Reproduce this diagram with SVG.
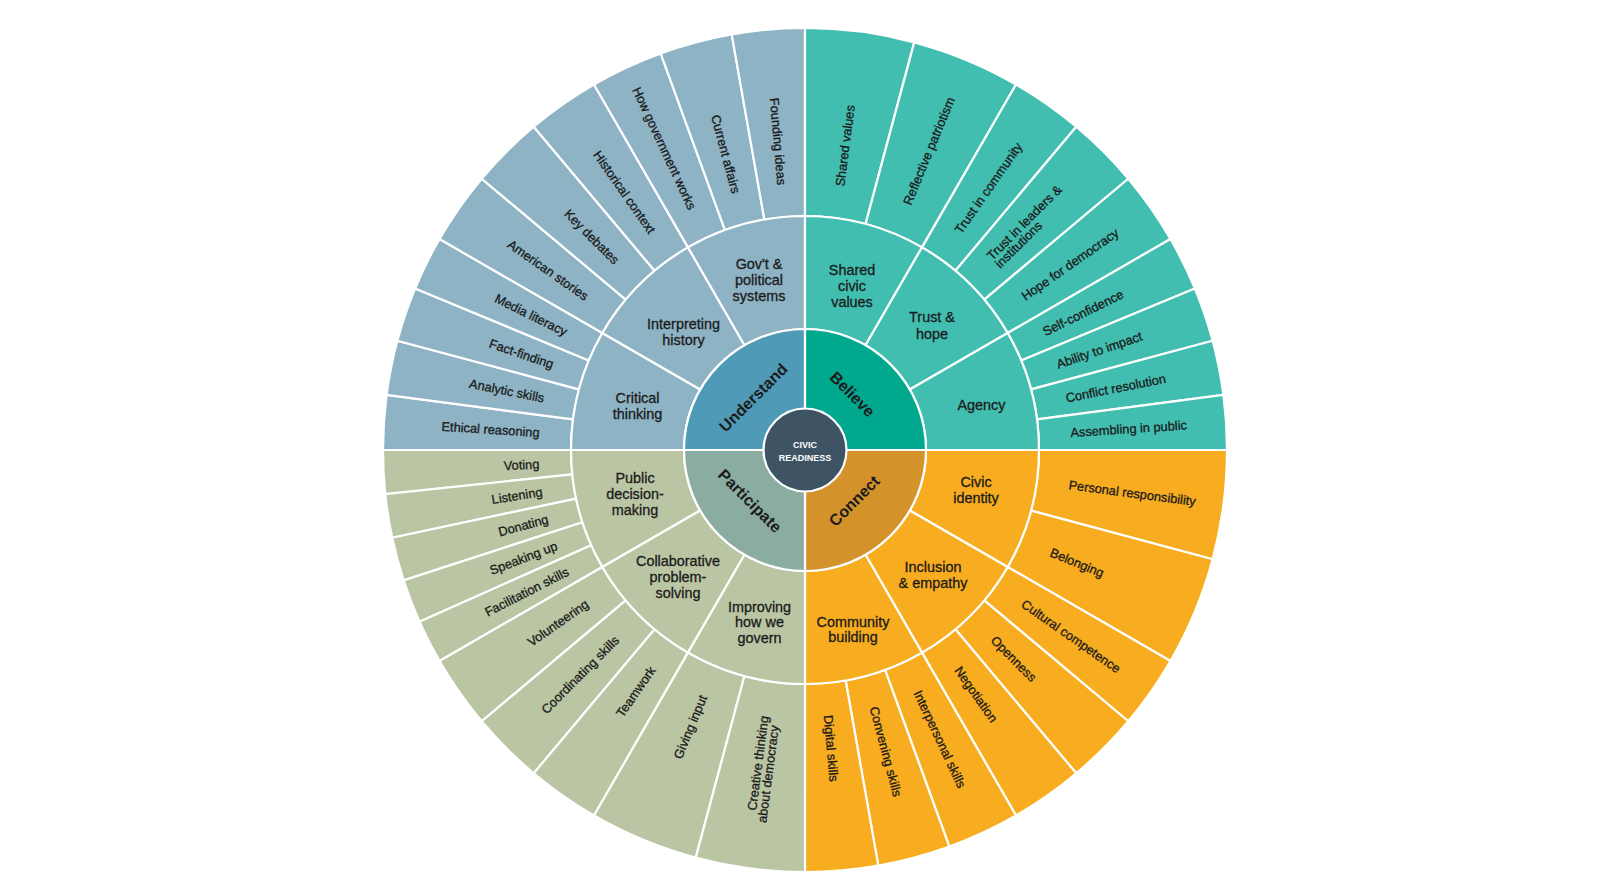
<svg xmlns="http://www.w3.org/2000/svg" width="1616" height="886" viewBox="0 0 1616 886">
<style>
.seg{stroke:#fff;stroke-width:2.2;stroke-linejoin:round}
.u{fill:#8DB3C4}.ud{fill:#4F9AB7}
.b{fill:#42BEB0}.bd{fill:#00A88E}
.c{fill:#F8AC1F}.cd{fill:#D4922B}
.p{fill:#BAC5A3}.pd{fill:#8BACA0}
text{font-family:"Liberation Sans",Arial,sans-serif;fill:#1b1b1b;stroke:#1b1b1b;stroke-width:0.3px}
.o{font-size:12.8px}
.oR{text-anchor:start}
.oL{text-anchor:end}
.m{font-size:14.4px;text-anchor:middle}
.i{font-size:16px;font-weight:bold;text-anchor:middle;stroke-width:0}
.ctr{font-size:9px;font-weight:bold;fill:#fff;stroke:none;text-anchor:middle}
</style>
<defs>
<path id="w75" d="M0,-234 L0,-422 A422,422 0 0 1 55.08,-418.39 L30.54,-232.00 A234,234 0 0 0 0,-234 Z"/>
<path id="w10" d="M0,-234 L0,-422 A422,422 0 0 1 73.28,-415.59 L40.63,-230.45 A234,234 0 0 0 0,-234 Z"/>
<path id="w15" d="M0,-234 L0,-422 A422,422 0 0 1 109.22,-407.62 L60.56,-226.03 A234,234 0 0 0 0,-234 Z"/>
<path id="w6" d="M0,-234 L0,-422 A422,422 0 0 1 44.11,-419.69 L24.46,-232.72 A234,234 0 0 0 0,-234 Z"/>
<path id="m30" d="M0,-121 L0,-234 A234,234 0 0 1 117,-202.65 L60.5,-104.79 A121,121 0 0 0 0,-121 Z"/>
<path id="q90" d="M0,0 L0,-121 A121,121 0 0 1 121,0 Z"/>
</defs>
<rect width="1616" height="886" fill="#fff"/>

<!-- Understand: outer ring -->
<g id="n-ethical-reasoning"><use href="#w75" class="seg u" transform="translate(805,450) rotate(270)"/><text class="o oL" transform="translate(805,450) rotate(3.75)" x="-266" dy="0.35em">Ethical reasoning</text></g>
<g id="n-analytic-skills"><use href="#w75" class="seg u" transform="translate(805,450) rotate(277.5)"/><text class="o oL" transform="translate(805,450) rotate(11.25)" x="-266" dy="0.35em">Analytic skills</text></g>
<g id="n-fact-finding"><use href="#w75" class="seg u" transform="translate(805,450) rotate(285)"/><text class="o oL" transform="translate(805,450) rotate(18.75)" x="-266" dy="0.35em">Fact-finding</text></g>
<g id="n-media-literacy"><use href="#w75" class="seg u" transform="translate(805,450) rotate(292.5)"/><text class="o oL" transform="translate(805,450) rotate(26.25)" x="-266" dy="0.35em">Media literacy</text></g>
<g id="n-american-stories"><use href="#w10" class="seg u" transform="translate(805,450) rotate(300)"/><text class="o oL" transform="translate(805,450) rotate(35)" x="-266" dy="0.35em">American stories</text></g>
<g id="n-key-debates"><use href="#w10" class="seg u" transform="translate(805,450) rotate(310)"/><text class="o oL" transform="translate(805,450) rotate(45)" x="-266" dy="0.35em">Key debates</text></g>
<g id="n-historical-context"><use href="#w10" class="seg u" transform="translate(805,450) rotate(320)"/><text class="o oL" transform="translate(805,450) rotate(55)" x="-266" dy="0.35em">Historical context</text></g>
<g id="n-how-government-works"><use href="#w10" class="seg u" transform="translate(805,450) rotate(330)"/><text class="o oL" transform="translate(805,450) rotate(65)" x="-266" dy="0.35em">How government works</text></g>
<g id="n-current-affairs"><use href="#w10" class="seg u" transform="translate(805,450) rotate(340)"/><text class="o oL" transform="translate(805,450) rotate(75)" x="-266" dy="0.35em">Current affairs</text></g>
<g id="n-founding-ideas"><use href="#w10" class="seg u" transform="translate(805,450) rotate(350)"/><text class="o oL" transform="translate(805,450) rotate(85)" x="-266" dy="0.35em">Founding ideas</text></g>

<!-- Believe: outer ring -->
<g id="n-shared-values"><use href="#w15" class="seg b" transform="translate(805,450) rotate(0)"/><text class="o oR" transform="translate(805,450) rotate(-82.5)" x="266" dy="0.35em">Shared values</text></g>
<g id="n-reflective-patriotism"><use href="#w15" class="seg b" transform="translate(805,450) rotate(15)"/><text class="o oR" transform="translate(805,450) rotate(-67.5)" x="266" dy="0.35em">Reflective patriotism</text></g>
<g id="n-trust-in-community"><use href="#w10" class="seg b" transform="translate(805,450) rotate(30)"/><text class="o oR" transform="translate(805,450) rotate(-55)" x="266" dy="0.35em">Trust in community</text></g>
<g id="n-trust-in-leaders"><use href="#w10" class="seg b" transform="translate(805,450) rotate(40)"/><text class="o oR" transform="translate(805,450) rotate(-45)"><tspan x="266" y="-1.3">Trust in leaders &amp;</tspan><tspan x="266" y="10.2">institutions</tspan></text></g>
<g id="n-hope-for-democracy"><use href="#w10" class="seg b" transform="translate(805,450) rotate(50)"/><text class="o oR" transform="translate(805,450) rotate(-35)" x="266" dy="0.35em">Hope for democracy</text></g>
<g id="n-self-confidence"><use href="#w75" class="seg b" transform="translate(805,450) rotate(60)"/><text class="o oR" transform="translate(805,450) rotate(-26.25)" x="266" dy="0.35em">Self-confidence</text></g>
<g id="n-ability-to-impact"><use href="#w75" class="seg b" transform="translate(805,450) rotate(67.5)"/><text class="o oR" transform="translate(805,450) rotate(-18.75)" x="266" dy="0.35em">Ability to impact</text></g>
<g id="n-conflict-resolution"><use href="#w75" class="seg b" transform="translate(805,450) rotate(75)"/><text class="o oR" transform="translate(805,450) rotate(-11.25)" x="266" dy="0.35em">Conflict resolution</text></g>
<g id="n-assembling-in-public"><use href="#w75" class="seg b" transform="translate(805,450) rotate(82.5)"/><text class="o oR" transform="translate(805,450) rotate(-3.75)" x="266" dy="0.35em">Assembling in public</text></g>

<!-- Connect: outer ring -->
<g id="n-personal-responsibility"><use href="#w15" class="seg c" transform="translate(805,450) rotate(90)"/><text class="o oR" transform="translate(805,450) rotate(7.5)" x="266" dy="0.35em">Personal responsibility</text></g>
<g id="n-belonging"><use href="#w15" class="seg c" transform="translate(805,450) rotate(105)"/><text class="o oR" transform="translate(805,450) rotate(22.5)" x="266" dy="0.35em">Belonging</text></g>
<g id="n-cultural-competence"><use href="#w10" class="seg c" transform="translate(805,450) rotate(120)"/><text class="o oR" transform="translate(805,450) rotate(35)" x="266" dy="0.35em">Cultural competence</text></g>
<g id="n-openness"><use href="#w10" class="seg c" transform="translate(805,450) rotate(130)"/><text class="o oR" transform="translate(805,450) rotate(45)" x="266" dy="0.35em">Openness</text></g>
<g id="n-negotiation"><use href="#w10" class="seg c" transform="translate(805,450) rotate(140)"/><text class="o oR" transform="translate(805,450) rotate(55)" x="266" dy="0.35em">Negotiation</text></g>
<g id="n-interpersonal-skills"><use href="#w10" class="seg c" transform="translate(805,450) rotate(150)"/><text class="o oR" transform="translate(805,450) rotate(65)" x="266" dy="0.35em">Interpersonal skills</text></g>
<g id="n-convening-skills"><use href="#w10" class="seg c" transform="translate(805,450) rotate(160)"/><text class="o oR" transform="translate(805,450) rotate(75)" x="266" dy="0.35em">Convening skills</text></g>
<g id="n-digital-skills"><use href="#w10" class="seg c" transform="translate(805,450) rotate(170)"/><text class="o oR" transform="translate(805,450) rotate(85)" x="266" dy="0.35em">Digital skills</text></g>

<!-- Participate: outer ring -->
<g id="n-voting"><use href="#w6" class="seg p" transform="translate(805,450) rotate(264)"/><text class="o oL" transform="translate(805,450) rotate(-3)" x="-266" dy="0.35em">Voting</text></g>
<g id="n-listening"><use href="#w6" class="seg p" transform="translate(805,450) rotate(258)"/><text class="o oL" transform="translate(805,450) rotate(-9)" x="-266" dy="0.35em">Listening</text></g>
<g id="n-donating"><use href="#w6" class="seg p" transform="translate(805,450) rotate(252)"/><text class="o oL" transform="translate(805,450) rotate(-15)" x="-266" dy="0.35em">Donating</text></g>
<g id="n-speaking-up"><use href="#w6" class="seg p" transform="translate(805,450) rotate(246)"/><text class="o oL" transform="translate(805,450) rotate(-21)" x="-266" dy="0.35em">Speaking up</text></g>
<g id="n-facilitation-skills"><use href="#w6" class="seg p" transform="translate(805,450) rotate(240)"/><text class="o oL" transform="translate(805,450) rotate(-27)" x="-266" dy="0.35em">Facilitation skills</text></g>
<g id="n-volunteering"><use href="#w10" class="seg p" transform="translate(805,450) rotate(230)"/><text class="o oL" transform="translate(805,450) rotate(-35)" x="-266" dy="0.35em">Volunteering</text></g>
<g id="n-coordinating-skills"><use href="#w10" class="seg p" transform="translate(805,450) rotate(220)"/><text class="o oL" transform="translate(805,450) rotate(-45)" x="-266" dy="0.35em">Coordinating skills</text></g>
<g id="n-teamwork"><use href="#w10" class="seg p" transform="translate(805,450) rotate(210)"/><text class="o oL" transform="translate(805,450) rotate(-55)" x="-266" dy="0.35em">Teamwork</text></g>
<g id="n-giving-input"><use href="#w15" class="seg p" transform="translate(805,450) rotate(195)"/><text class="o oL" transform="translate(805,450) rotate(-67.5)" x="-266" dy="0.35em">Giving input</text></g>
<g id="n-creative-thinking"><use href="#w15" class="seg p" transform="translate(805,450) rotate(180)"/><text class="o oL" transform="translate(805,450) rotate(-82.5)"><tspan x="-269" y="-1.3">Creative thinking</tspan><tspan x="-277" y="10.2">about democracy</tspan></text></g>

<!-- Middle ring -->
<g id="n-critical-thinking"><use href="#m30" class="seg u" transform="translate(805,450) rotate(270)"/><text class="m"><tspan x="637.5" y="403">Critical</tspan><tspan x="637.5" y="419">thinking</tspan></text></g>
<g id="n-interpreting-history"><use href="#m30" class="seg u" transform="translate(805,450) rotate(300)"/><text class="m"><tspan x="683.5" y="328.5">Interpreting</tspan><tspan x="683.5" y="344.5">history</tspan></text></g>
<g id="n-govt-political-systems"><use href="#m30" class="seg u" transform="translate(805,450) rotate(330)"/><text class="m"><tspan x="759" y="268.5">Gov't &amp;</tspan><tspan x="759" y="284.5">political</tspan><tspan x="759" y="300.5">systems</tspan></text></g>
<g id="n-shared-civic-values"><use href="#m30" class="seg b" transform="translate(805,450) rotate(0)"/><text class="m"><tspan x="852" y="274.5">Shared</tspan><tspan x="852" y="290.5">civic</tspan><tspan x="852" y="306.5">values</tspan></text></g>
<g id="n-trust-hope"><use href="#m30" class="seg b" transform="translate(805,450) rotate(30)"/><text class="m"><tspan x="932" y="322">Trust &amp;</tspan><tspan x="932" y="338.5">hope</tspan></text></g>
<g id="n-agency"><use href="#m30" class="seg b" transform="translate(805,450) rotate(60)"/><text class="m" x="981.5" y="409.5">Agency</text></g>
<g id="n-civic-identity"><use href="#m30" class="seg c" transform="translate(805,450) rotate(90)"/><text class="m"><tspan x="976" y="487">Civic</tspan><tspan x="976" y="502.5">identity</tspan></text></g>
<g id="n-inclusion-empathy"><use href="#m30" class="seg c" transform="translate(805,450) rotate(120)"/><text class="m"><tspan x="933" y="571.5">Inclusion</tspan><tspan x="933" y="587.5">&amp; empathy</tspan></text></g>
<g id="n-community-building"><use href="#m30" class="seg c" transform="translate(805,450) rotate(150)"/><text class="m"><tspan x="853" y="626.5">Community</tspan><tspan x="853" y="641.5">building</tspan></text></g>
<g id="n-public-decision-making"><use href="#m30" class="seg p" transform="translate(805,450) rotate(240)"/><text class="m"><tspan x="635" y="482.5">Public</tspan><tspan x="635" y="498.5">decision-</tspan><tspan x="635" y="514.5">making</tspan></text></g>
<g id="n-collaborative-problem-solving"><use href="#m30" class="seg p" transform="translate(805,450) rotate(210)"/><text class="m"><tspan x="678" y="566">Collaborative</tspan><tspan x="678" y="582">problem-</tspan><tspan x="678" y="598">solving</tspan></text></g>
<g id="n-improving-how-we-govern"><use href="#m30" class="seg p" transform="translate(805,450) rotate(180)"/><text class="m"><tspan x="759.5" y="611.5">Improving</tspan><tspan x="759.5" y="627">how we</tspan><tspan x="759.5" y="642.5">govern</tspan></text></g>

<!-- Inner ring -->
<g id="n-understand"><use href="#q90" class="seg ud" transform="translate(805,450) rotate(270)"/><text class="i" transform="translate(753.3,397.5) rotate(-45)" dy="0.35em">Understand</text></g>
<g id="n-believe"><use href="#q90" class="seg bd" transform="translate(805,450) rotate(0)"/><text class="i" transform="translate(852.5,394.2) rotate(45)" dy="0.35em">Believe</text></g>
<g id="n-connect"><use href="#q90" class="seg cd" transform="translate(805,450) rotate(90)"/><text class="i" transform="translate(854.2,500.8) rotate(-45)" dy="0.35em">Connect</text></g>
<g id="n-participate"><use href="#q90" class="seg pd" transform="translate(805,450) rotate(180)"/><text class="i" transform="translate(750,500.8) rotate(45)" dy="0.35em">Participate</text></g>

<!-- Center -->
<g id="n-civic-readiness"><circle cx="805" cy="450" r="41.5" fill="#3E5465" stroke="#fff" stroke-width="2.2"/><text class="ctr"><tspan x="805" y="447.6">CIVIC</tspan><tspan x="805" y="460.6">READINESS</tspan></text></g>
</svg>
